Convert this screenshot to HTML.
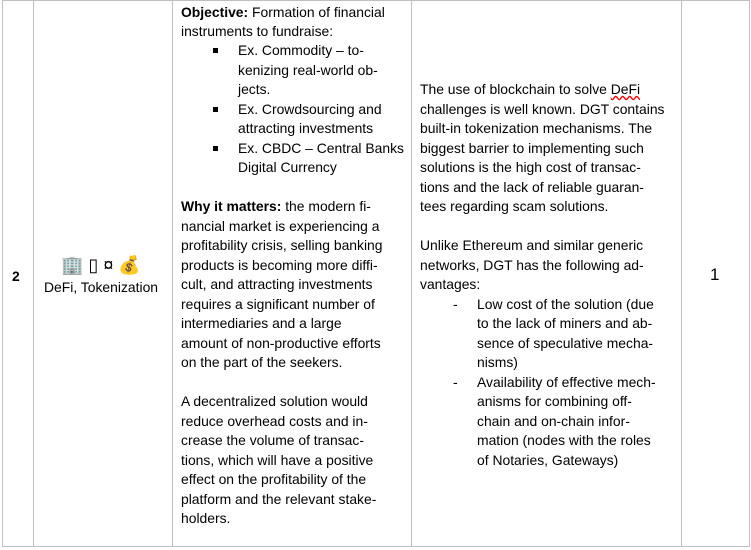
<!DOCTYPE html>
<html><head><meta charset="utf-8"><style>
body{margin:0;width:751px;height:550px;background:#fff;position:relative;overflow:hidden;font-family:"Liberation Sans",sans-serif;font-size:13.9px;color:#000}
.v{position:absolute;top:0;width:1px;height:547px;background:#bfbfbf}
.h{position:absolute;left:2px;width:748px;height:1px;background:#bfbfbf}
.t{position:absolute;white-space:nowrap;line-height:20px;height:20px}
.b{position:absolute;width:5px;height:5px;background:#000}
</style></head><body>
<div class="h" style="top:0"></div><div class="h" style="top:546px"></div>
<div class="v" style="left:2px"></div><div class="v" style="left:33px"></div><div class="v" style="left:172px"></div><div class="v" style="left:411px"></div><div class="v" style="left:681px"></div><div class="v" style="left:749px"></div>
<div class="t" style="left:12px;top:266px;font-weight:bold">2</div>
<div class="t" style="left:61px;top:254px;font-size:18px;height:22px;line-height:22px">🏢 ▯ ¤ 💰</div>
<div class="t" style="left:44px;top:277px">DeFi, Tokenization</div>
<div class="t" style="left:710px;top:265px;font-size:17px">1</div>

<div class="t" style="left:181px;top:2px"><b>Objective:</b> Formation of financial</div>
<div class="t" style="left:181px;top:21px">instruments to fundraise:</div>
<div class="b" style="left:213px;top:48px"></div><div class="t" style="left:238px;top:40px">Ex. Commodity – to-</div>
<div class="t" style="left:238px;top:60px">kenizing real-world ob-</div>
<div class="t" style="left:238px;top:79px">jects.</div>
<div class="b" style="left:213px;top:107px"></div><div class="t" style="left:238px;top:99px">Ex. Crowdsourcing and</div>
<div class="t" style="left:238px;top:118px">attracting investments</div>
<div class="b" style="left:213px;top:146px"></div><div class="t" style="left:238px;top:138px">Ex. CBDC – Central Banks</div>
<div class="t" style="left:238px;top:157px">Digital Currency</div>
<div class="t" style="left:181px;top:196px"><b>Why it matters:</b> the modern fi-</div>
<div class="t" style="left:181px;top:216px">nancial market is experiencing a</div>
<div class="t" style="left:181px;top:235px">profitability crisis, selling banking</div>
<div class="t" style="left:181px;top:255px">products is becoming more diffi-</div>
<div class="t" style="left:181px;top:274px">cult, and attracting investments</div>
<div class="t" style="left:181px;top:294px">requires a significant number of</div>
<div class="t" style="left:181px;top:313px">intermediaries and a large</div>
<div class="t" style="left:181px;top:333px">amount of non-productive efforts</div>
<div class="t" style="left:181px;top:352px">on the part of the seekers.</div>
<div class="t" style="left:181px;top:391px">A decentralized solution would</div>
<div class="t" style="left:181px;top:411px">reduce overhead costs and in-</div>
<div class="t" style="left:181px;top:430px">crease the volume of transac-</div>
<div class="t" style="left:181px;top:450px">tions, which will have a positive</div>
<div class="t" style="left:181px;top:469px">effect on the profitability of the</div>
<div class="t" style="left:181px;top:489px">platform and the relevant stake-</div>
<div class="t" style="left:181px;top:508px">holders.</div>

<div class="t" style="left:420px;top:79px">The use of blockchain to solve <span style="text-decoration:underline wavy red">DeFi</span></div>
<div class="t" style="left:420px;top:99px">challenges is well known. DGT contains</div>
<div class="t" style="left:420px;top:118px">built-in tokenization mechanisms. The</div>
<div class="t" style="left:420px;top:138px">biggest barrier to implementing such</div>
<div class="t" style="left:420px;top:157px">solutions is the high cost of transac-</div>
<div class="t" style="left:420px;top:177px">tions and the lack of reliable guaran-</div>
<div class="t" style="left:420px;top:196px">tees regarding scam solutions.</div>
<div class="t" style="left:420px;top:235px">Unlike Ethereum and similar generic</div>
<div class="t" style="left:420px;top:255px">networks, DGT has the following ad-</div>
<div class="t" style="left:420px;top:274px">vantages:</div>
<div class="t" style="left:453px;top:294px">-</div><div class="t" style="left:477px;top:294px">Low cost of the solution (due</div>
<div class="t" style="left:477px;top:313px">to the lack of miners and ab-</div>
<div class="t" style="left:477px;top:333px">sence of speculative mecha-</div>
<div class="t" style="left:477px;top:352px">nisms)</div>
<div class="t" style="left:453px;top:372px">-</div><div class="t" style="left:477px;top:372px">Availability of effective mech-</div>
<div class="t" style="left:477px;top:391px">anisms for combining off-</div>
<div class="t" style="left:477px;top:411px">chain and on-chain infor-</div>
<div class="t" style="left:477px;top:430px">mation (nodes with the roles</div>
<div class="t" style="left:477px;top:450px">of Notaries, Gateways)</div>
</body></html>
